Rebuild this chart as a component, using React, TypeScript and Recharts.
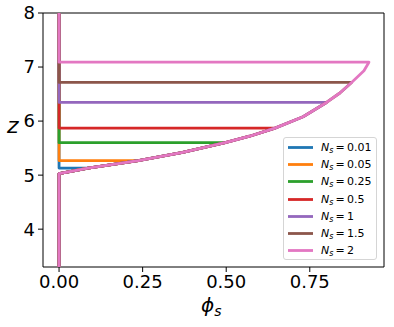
import React from 'react';
import { ScatterChart, Scatter, XAxis, YAxis, ReferenceLine } from 'recharts';

// Common envelope of the phi_s(z) profiles
const envelopePhi = [0, 0.087, 0.237, 0.37, 0.497, 0.57, 0.646, 0.73, 0.8, 0.84, 0.875, 0.912, 0.927];
const envelopeZ = [5.03, 5.13, 5.27, 5.42, 5.6, 5.72, 5.87, 6.08, 6.345, 6.52, 6.715, 6.93, 7.09];

const seriesLabels = ['0.01', '0.05', '0.25', '0.5', '1', '1.5', '2'];
const seriesTopIndex = [1, 2, 4, 6, 8, 10, 12];
const seriesColors = ['#1f77b4', '#ff7f0e', '#2ca02c', '#d62728', '#9467bd', '#8c564b', '#e377c2'];

const zBottom = 3.3;
const zTop = 8;
const xTicks = [0, 0.25, 0.5, 0.75];
const yTicks = [4, 5, 6, 7, 8];

const buildSeries = (topIdx: number) => {
  const pts: { phi: number; z: number }[] = [{ phi: 0, z: zBottom }];
  for (let i = 0; i <= topIdx; i++) {
    pts.push({ phi: i === 0 ? 0 : envelopePhi[i], z: envelopeZ[i] });
  }
  pts.push({ phi: 0, z: envelopeZ[topIdx] });
  pts.push({ phi: 0, z: zTop });
  return pts;
};

const FONT = '"DejaVu Sans", sans-serif';
const NoShape = () => <g />;

export default function App() {
  return (
    <div style={{ position: 'absolute', left: 0, top: 0, width: 394, height: 327, background: '#fff', fontFamily: FONT }}>
      <ScatterChart width={394} height={327} margin={{ top: 13, right: 10, bottom: 0, left: 0 }}>
        <XAxis
          type="number"
          dataKey="phi"
          domain={[-0.048, 0.972]}
          allowDataOverflow
          ticks={xTicks}
          tickFormatter={(v: number) => v.toFixed(2)}
          height={60}
          tickSize={5}
          tickMargin={3}
          axisLine={{ stroke: '#000', strokeWidth: 1 }}
          tickLine={{ stroke: '#000' }}
          tick={{ fill: '#000', fontSize: 18, fontFamily: FONT }}
        />
        <YAxis
          type="number"
          dataKey="z"
          domain={[zBottom, zTop]}
          allowDataOverflow
          ticks={yTicks}
          width={43}
          tickSize={5}
          tickMargin={3}
          axisLine={{ stroke: '#000', strokeWidth: 1 }}
          tickLine={{ stroke: '#000' }}
          tick={{ fill: '#000', fontSize: 18, fontFamily: FONT }}
        />
        {seriesLabels.map((lab, k) => (
          <Scatter
            key={lab}
            name={lab}
            data={buildSeries(seriesTopIndex[k])}
            fill={seriesColors[k]}
            line={{ stroke: seriesColors[k], strokeWidth: 2.8, strokeLinejoin: 'round' }}
            lineType="joint"
            shape={NoShape}
            isAnimationActive={false}
          />
        ))}
        <ReferenceLine y={zTop} stroke="#000" strokeWidth={1} />
        <ReferenceLine x={0.972} stroke="#000" strokeWidth={1} />
      </ScatterChart>

      {/* y label */}
      <div style={{ position: 'absolute', left: 7, top: 113, fontSize: 22, fontStyle: 'italic', lineHeight: '26px' }}>z</div>

      {/* x label */}
      <div style={{ position: 'absolute', left: 201, top: 293, fontSize: 20, fontStyle: 'italic', lineHeight: '24px', whiteSpace: 'nowrap' }}>
        ϕ<span style={{ fontSize: 14, position: 'relative', top: 4 }}>s</span>
      </div>

      {/* legend */}
      <div
        style={{
          position: 'absolute',
          left: 283,
          top: 137,
          width: 94,
          height: 123,
          border: '1px solid #d5d5d5',
          borderRadius: 3,
          background: 'rgba(255,255,255,0.8)',
          boxSizing: 'border-box',
        }}
      >
        {seriesLabels.map((lab, k) => (
          <div
            key={lab}
            style={{ position: 'absolute', left: 4, top: 1 + k * 17.2, height: 17, display: 'flex', alignItems: 'center', whiteSpace: 'nowrap' }}
          >
            <svg width={26} height={17} style={{ display: 'block' }}>
              <line x1={0} y1={8.5} x2={25} y2={8.5} stroke={seriesColors[k]} strokeWidth={2.8} />
            </svg>
            <span style={{ marginLeft: 7, fontSize: 11, color: '#000' }}>
              <i>N</i>
              <i style={{ fontSize: 8, position: 'relative', top: 2 }}>s</i>
              {'\u2009=\u2009' + lab}
            </span>
          </div>
        ))}
      </div>
    </div>
  );
}
